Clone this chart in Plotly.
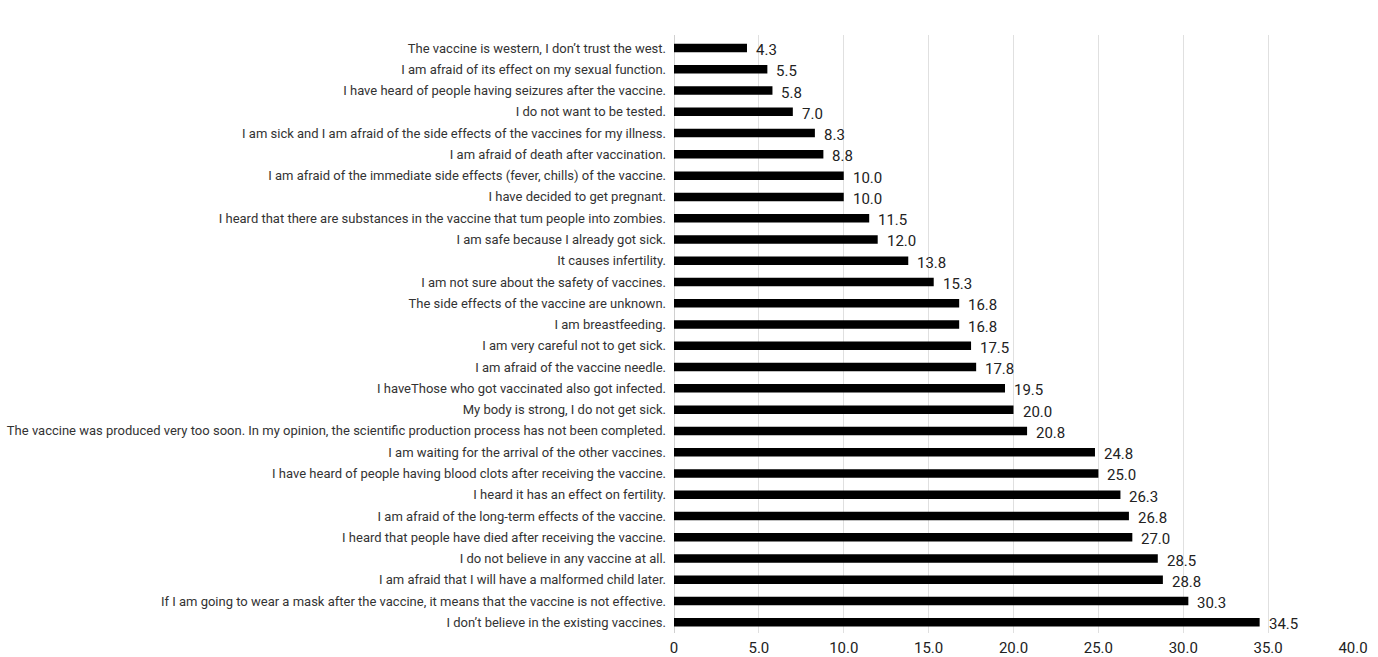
import plotly.graph_objects as go

categories = [
    "The vaccine is western, I don’t trust the west.",
    "I am afraid of its effect on my sexual function.",
    "I have heard of people having seizures after the vaccine.",
    "I do not want to be tested.",
    "I am sick and I am afraid of the side effects of the vaccines for my illness.",
    "I am afraid of death after vaccination.",
    "I am afraid of the immediate side effects (fever, chills) of the vaccine.",
    "I have decided to get pregnant.",
    "I heard that there are substances in the vaccine that tum people into zombies.",
    "I am safe because I already got sick.",
    "It causes infertility.",
    "I am not sure about the safety of vaccines.",
    "The side effects of the vaccine are unknown.",
    "I am breastfeeding.",
    "I am very careful not to get sick.",
    "I am afraid of the vaccine needle.",
    "I haveThose who got vaccinated also got infected.",
    "My body is strong, I do not get sick.",
    "The vaccine was produced very too soon. In my opinion, the scientific production process has not been completed.",
    "I am waiting for the arrival of the other vaccines.",
    "I have heard of people having blood clots after receiving the vaccine.",
    "I heard it has an effect on fertility.",
    "I am afraid of the long-term effects of the vaccine.",
    "I heard that people have died after receiving the vaccine.",
    "I do not believe in any vaccine at all.",
    "I am afraid that I will have a malformed child later.",
    "If I am going to wear a mask after the vaccine, it means that the vaccine is not effective.",
    "I don’t believe in the existing vaccines.",
]
values = [4.3, 5.5, 5.8, 7.0, 8.3, 8.8, 10.0, 10.0, 11.5, 12.0, 13.8, 15.3, 16.8, 16.8,
          17.5, 17.8, 19.5, 20.0, 20.8, 24.8, 25.0, 26.3, 26.8, 27.0, 28.5, 28.8, 30.3, 34.5]
tick_vals = [0, 5, 10, 15, 20, 25, 30, 35, 40]
tick_text = ["0", "5.0", "10.0", "15.0", "20.0", "25.0", "30.0", "35.0", "40.0"]

FONT = "Roboto, sans-serif"

fig = go.Figure(go.Bar(
    x=values, y=categories, orientation="h",
    marker=dict(color="#000000", line=dict(width=0)),
))
for c, v in zip(categories, values):
    fig.add_annotation(x=v, y=c, text=f"{v:.1f}", showarrow=False,
                       xanchor="left", yanchor="middle", xshift=7, yshift=-2,
                       font=dict(family=FONT, size=15, color="#222222"))
fig.update_layout(
    width=1378, height=657,
    margin=dict(l=674, r=25, t=35, b=24, autoexpand=False),
    paper_bgcolor="white", plot_bgcolor="white",
    bargap=0.6, showlegend=False,
    font=dict(family=FONT, color="#333333"),
)
fig.update_xaxes(range=[0, 40], tickvals=tick_vals, ticktext=tick_text,
                 showgrid=True, gridcolor="#e0e0e0", gridwidth=1,
                 zeroline=True, zerolinecolor="#d0d0d0", zerolinewidth=1,
                 tickfont=dict(family=FONT, size=15, color="#222222"),
                 ticks="", showline=False, automargin=False, ticklabelstandoff=4)
fig.update_yaxes(autorange="reversed", tickfont=dict(family=FONT, size=13, color="#333333"),
                 ticks="", showgrid=False, ticklabelstandoff=7, automargin=False)
fig.write_html("out.html")
